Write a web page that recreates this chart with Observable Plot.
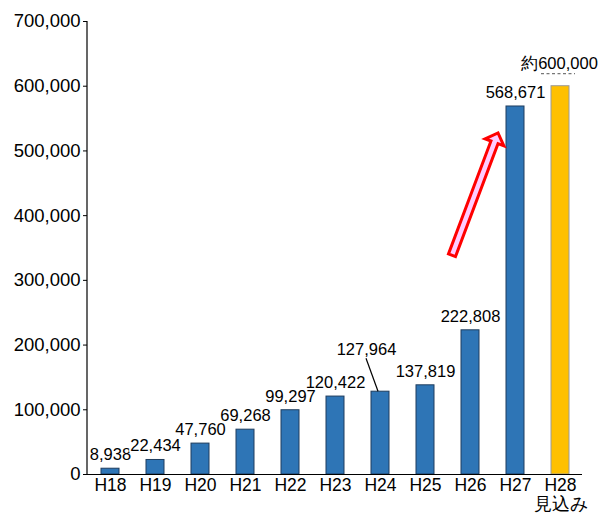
<!DOCTYPE html>
<html>
<head>
<meta charset="utf-8">
<script src="https://cdn.jsdelivr.net/npm/d3@7"></script>
<script src="https://cdn.jsdelivr.net/npm/@observablehq/plot@0.6"></script>
<style>
  html, body { margin: 0; padding: 0; background: #fff; }
  #chart svg { display: block; }
</style>
</head>
<body>
<div id="chart"></div>
<script>
// ---- data ----
const years = ["H18", "H19", "H20", "H21", "H22", "H23", "H24", "H25", "H26", "H27", "H28"];
const values = [8938, 22434, 47760, 69268, 99297, 120422, 127964, 137819, 222808, 568671, 600000];
const valueLabels = ["8,938", "22,434", "47,760", "69,268", "99,297", "120,422", "127,964", "137,819", "222,808", "568,671", "約600,000"];
const xTickLabels = ["H18", "H19", "H20", "H21", "H22", "H23", "H24", "H25", "H26", "H27", "H28\n見込み"];
const kinds = ["実績", "実績", "実績", "実績", "実績", "実績", "実績", "実績", "実績", "実績", "見込み"];
const yTicks = [0, 100000, 200000, 300000, 400000, 500000, 600000, 700000];
// growth arrow annotation (from / to in data terms)
const arrowFrom = {year: "H26", value: 338000};
const arrowTo = {year: "H27", value: 527000};

const data = years.map((y, i) => ({year: y, value: values[i], label: valueLabels[i], kind: kinds[i]}));
const tickLabelOf = new Map(years.map((y, i) => [y, xTickLabels[i]]));

const FONT = "'Liberation Sans', Arial, Helvetica, sans-serif";

function cx(scales, v) {
  const s = scales.x;
  return s(v) + (s.bandwidth ? s.bandwidth() / 2 : 0);
}

// annotation mark: y-axis line, leader line, dashed underline, arrow
function annotations(index, scales, vals, dimensions) {
  const g = d3.create("svg:g");
  // y axis line
  g.append("line")
    .attr("x1", dimensions.marginLeft).attr("x2", dimensions.marginLeft)
    .attr("y1", scales.y(700000)).attr("y2", scales.y(0))
    .attr("stroke", "#000").attr("stroke-width", 1.2);
  // leader line for H24
  const x24 = cx(scales, "H24"), y24 = scales.y(values[6]);
  g.append("line")
    .attr("x1", x24 - 14).attr("y1", y24 - 33)
    .attr("x2", x24 - 2).attr("y2", y24)
    .attr("stroke", "#000").attr("stroke-width", 1.2);
  // dashed underline for H28
  const x28 = cx(scales, "H28"), y28 = scales.y(values[10]);
  g.append("line")
    .attr("x1", x28 - 19).attr("x2", x28 + 15)
    .attr("y1", y28 - 12).attr("y2", y28 - 12)
    .attr("stroke", "#555").attr("stroke-width", 1)
    .attr("stroke-dasharray", "3,2.5");
  // arrow
  const S = [cx(scales, arrowFrom.year) - 18, scales.y(arrowFrom.value)];
  const T = [cx(scales, arrowTo.year) - 17, scales.y(arrowTo.value)];
  const dx = T[0] - S[0], dy = T[1] - S[1];
  const L = Math.hypot(dx, dy);
  const u = [dx / L, dy / L], n = [-u[1], u[0]];
  const w = 7.5, hw = 20, hl = 10;
  const H = [T[0] - u[0] * hl, T[1] - u[1] * hl];
  const pts = [
    [S[0] + n[0] * w / 2, S[1] + n[1] * w / 2],
    [H[0] + n[0] * w / 2, H[1] + n[1] * w / 2],
    [H[0] + n[0] * hw / 2, H[1] + n[1] * hw / 2],
    T,
    [H[0] - n[0] * hw / 2, H[1] - n[1] * hw / 2],
    [H[0] - n[0] * w / 2, H[1] - n[1] * w / 2],
    [S[0] - n[0] * w / 2, S[1] - n[1] * w / 2]
  ];
  g.append("polygon")
    .attr("points", pts.map(p => p.join(",")).join(" "))
    .attr("fill", "#ffccff").attr("stroke", "#ff0000")
    .attr("stroke-width", 3).attr("stroke-linejoin", "miter");
  return g.node();
}

const chart = Plot.plot({
  width: 601,
  height: 517,
  marginLeft: 87,
  marginRight: 19,
  marginTop: 21,
  marginBottom: 43,
  style: {fontFamily: FONT, background: "#fff", color: "#000"},
  x: {domain: years, paddingInner: 0.6, paddingOuter: 0.3, label: null},
  y: {domain: [0, 700000], label: null},
  color: {domain: ["実績", "見込み"], range: ["#2e75b6", "#ffc000"]},
  marks: [
    Plot.barY(data, {
      x: "year", y: "value", fill: "kind",
      stroke: d => d.kind === "見込み" ? "#9a9a9a" : "#1f3d5e",
      strokeWidth: 1
    }),
    Plot.ruleY([0], {stroke: "#000", strokeWidth: 1.2}),
    Plot.axisY({
      ticks: yTicks, tickFormat: d3.format(","), tickSize: 4, tickPadding: 3,
      fontSize: 18.5, label: null
    }),
    Plot.axisX({
      tickSize: 0, tickPadding: 3, fontSize: 17.5, label: null,
      tickFormat: d => tickLabelOf.get(d), lineHeight: 1.1
    }),
    annotations,
    Plot.text(data.filter(d => d.year !== "H24" && d.year !== "H28"), {
      x: "year", y: "value", text: "label", dy: -14, lineAnchor: "middle",
      fontSize: 16.5, fill: "#000", stroke: "#fff", strokeWidth: 4, paintOrder: "stroke"
    }),
    Plot.text(data.filter(d => d.year === "H24"), {
      x: "year", y: "value", text: "label", dx: -14, dy: -42, lineAnchor: "middle",
      fontSize: 16.5, fill: "#000"
    }),
    Plot.text(data.filter(d => d.year === "H28"), {
      x: "year", y: "value", text: "label", dx: -1, dy: -22, lineAnchor: "middle",
      fontSize: 16.5, fill: "#000"
    })
  ]
});
document.getElementById("chart").appendChild(chart);
</script>
</body>
</html>
